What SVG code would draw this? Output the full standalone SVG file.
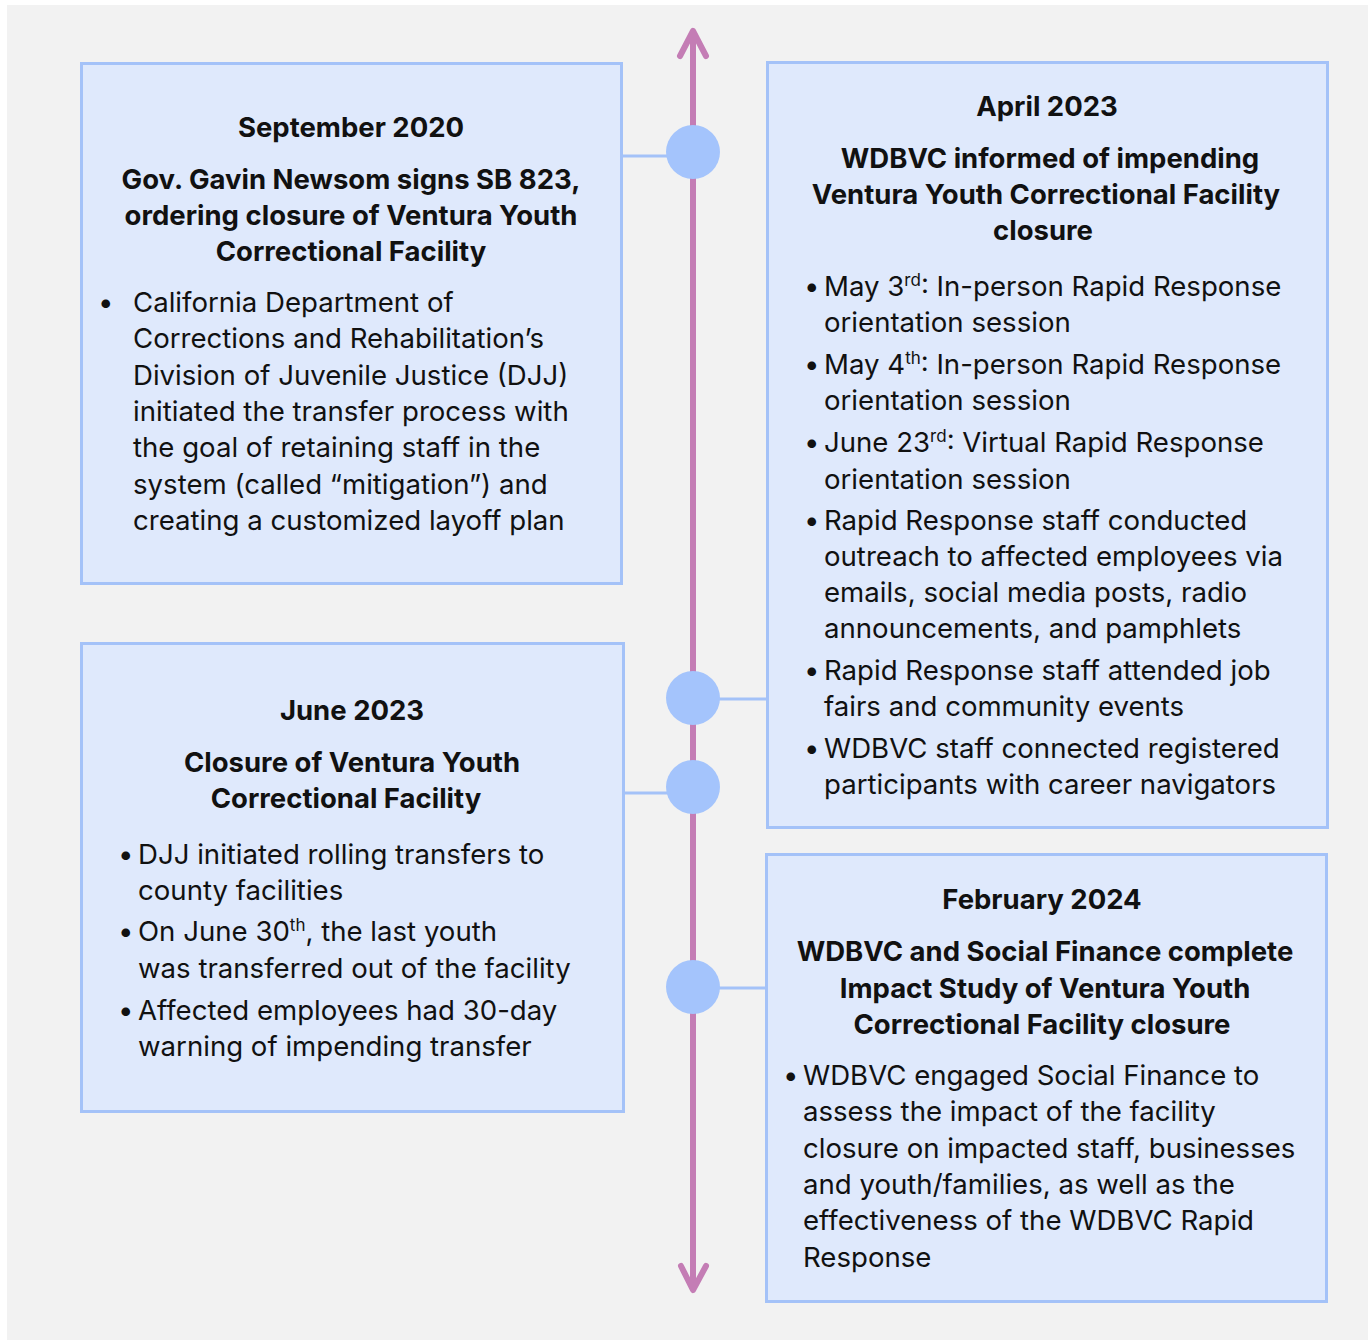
<svg xmlns="http://www.w3.org/2000/svg" width="1368" height="1340" viewBox="0 0 1368 1340">
  <style>
    .box { fill: #dfe9fc; stroke: #a4c2f8; stroke-width: 3; }
    .link { stroke: #a4c2f8; stroke-width: 3; fill: none; }
    .dot { fill: #a4c4fc; }
    .axis { stroke: #c47db5; stroke-width: 6; fill: none; stroke-linecap: round; stroke-linejoin: round; }
    text { font-family: Inter, "Noto Sans", "Liberation Sans", sans-serif; fill: #111111; font-size: 27.6px; }
    .h { font-weight: bold; text-anchor: middle; font-size: 27.5px; }
    .sup { font-size: 17px; }
  </style>

  <rect x="0" y="0" width="1368" height="1340" fill="#ffffff"/>
  <rect x="7" y="5" width="1361" height="1335" fill="#f2f2f2"/>

  <!-- timeline axis with arrowheads at both ends -->
  <g id="connectors">
    <line class="axis" x1="693" y1="33" x2="693" y2="1288"/>
    <polyline class="axis" points="680,56 693,31 706,56"/>
    <polyline class="axis" points="681,1266 693,1290 706,1266"/>
    <line class="link" x1="622" y1="156" x2="668" y2="156"/>
    <line class="link" x1="718" y1="699" x2="767" y2="699"/>
    <line class="link" x1="624" y1="793" x2="668" y2="793"/>
    <line class="link" x1="718" y1="988" x2="766" y2="988"/>
  </g>

  <g id="markers">
    <circle class="dot" cx="693" cy="152" r="27"/>
    <circle class="dot" cx="693" cy="698" r="27"/>
    <circle class="dot" cx="693" cy="787" r="27"/>
    <circle class="dot" cx="693" cy="987" r="27"/>
  </g>

  <g id="sep2020">
    <rect class="box" x="81.5" y="63.5" width="540" height="520"/>
    <text class="h" x="351" y="137">September 2020</text>
    <text class="h" x="351" y="189">Gov. Gavin Newsom signs SB 823,</text>
    <text class="h" x="351" y="225">ordering closure of Ventura Youth</text>
    <text class="h" x="351" y="261">Correctional Facility</text>
    <text x="98" y="312">•</text>
    <text x="133" y="312">California Department of</text>
    <text x="133" y="348">Corrections and Rehabilitation’s</text>
    <text x="133" y="385">Division of Juvenile Justice (DJJ)</text>
    <text x="133" y="421">initiated the transfer process with</text>
    <text x="133" y="457">the goal of retaining staff in the</text>
    <text x="133" y="494">system (called “mitigation”) and</text>
    <text x="133" y="530">creating a customized layoff plan</text>
  </g>

  <g id="apr2023">
    <rect class="box" x="767.5" y="62.5" width="560" height="765"/>
    <text class="h" x="1047" y="116">April 2023</text>
    <text class="h" x="1050" y="168">WDBVC informed of impending</text>
    <text class="h" x="1046" y="204">Ventura Youth Correctional Facility</text>
    <text class="h" x="1043" y="240">closure</text>
    <text x="804" y="296">•</text>
    <text x="824" y="296">May 3<tspan class="sup" dy="-10">rd</tspan><tspan dy="10">: In-person Rapid Response</tspan></text>
    <text x="824" y="332">orientation session</text>
    <text x="804" y="374">•</text>
    <text x="824" y="374">May 4<tspan class="sup" dy="-10">th</tspan><tspan dy="10">: In-person Rapid Response</tspan></text>
    <text x="824" y="410">orientation session</text>
    <text x="804" y="452">•</text>
    <text x="824" y="452">June 23<tspan class="sup" dy="-10">rd</tspan><tspan dy="10">: Virtual Rapid Response</tspan></text>
    <text x="824" y="489">orientation session</text>
    <text x="804" y="530">•</text>
    <text x="824" y="530">Rapid Response staff conducted</text>
    <text x="824" y="566">outreach to affected employees via</text>
    <text x="824" y="602">emails, social media posts, radio</text>
    <text x="824" y="638">announcements, and pamphlets</text>
    <text x="804" y="680">•</text>
    <text x="824" y="680">Rapid Response staff attended job</text>
    <text x="824" y="716">fairs and community events</text>
    <text x="804" y="758">•</text>
    <text x="824" y="758">WDBVC staff connected registered</text>
    <text x="824" y="794">participants with career navigators</text>
  </g>

  <g id="jun2023">
    <rect class="box" x="81.5" y="643.5" width="542" height="468"/>
    <text class="h" x="352" y="720">June 2023</text>
    <text class="h" x="352" y="772">Closure of Ventura Youth</text>
    <text class="h" x="346" y="808">Correctional Facility</text>
    <text x="118" y="864">•</text>
    <text x="138" y="864">DJJ initiated rolling transfers to</text>
    <text x="138" y="900">county facilities</text>
    <text x="118" y="941">•</text>
    <text x="138" y="941">On June 30<tspan class="sup" dy="-10">th</tspan><tspan dy="10">, the last youth</tspan></text>
    <text x="138" y="978">was transferred out of the facility</text>
    <text x="118" y="1020">•</text>
    <text x="138" y="1020">Affected employees had 30-day</text>
    <text x="138" y="1056">warning of impending transfer</text>
  </g>

  <g id="feb2024">
    <rect class="box" x="766.5" y="854.5" width="560" height="447"/>
    <text class="h" x="1042" y="909">February 2024</text>
    <text class="h" x="1045" y="961">WDBVC and Social Finance complete</text>
    <text class="h" x="1045" y="998">Impact Study of Ventura Youth</text>
    <text class="h" x="1042" y="1034">Correctional Facility closure</text>
    <text x="783" y="1085">•</text>
    <text x="803" y="1085">WDBVC engaged Social Finance to</text>
    <text x="803" y="1121">assess the impact of the facility</text>
    <text x="803" y="1158">closure on impacted staff, businesses</text>
    <text x="803" y="1194">and youth/families, as well as the</text>
    <text x="803" y="1230">effectiveness of the WDBVC Rapid</text>
    <text x="803" y="1267">Response</text>
  </g>
</svg>
